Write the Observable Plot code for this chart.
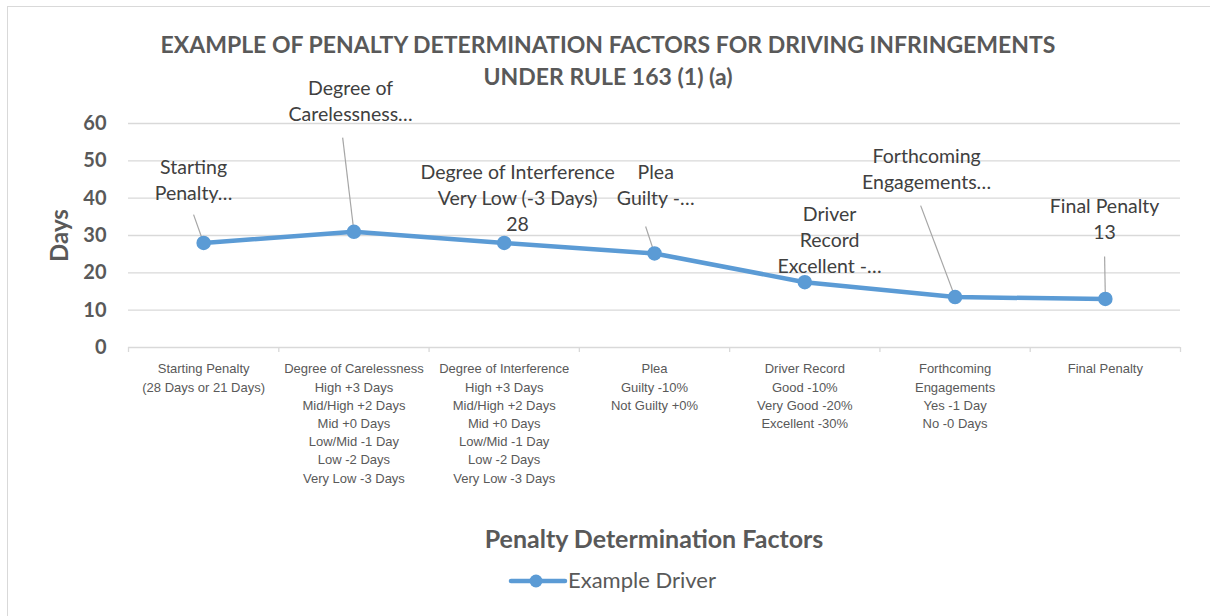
<!DOCTYPE html>
<html>
<head>
<meta charset="utf-8">
<script src="https://cdn.jsdelivr.net/npm/d3@7"></script>
<script src="https://cdn.jsdelivr.net/npm/@observablehq/plot@0.6"></script>
<style>
  html, body { margin: 0; padding: 0; background: #fff; }
  #wrap { position: relative; width: 1210px; height: 616px; overflow: hidden; font-family: Lato, "Open Sans", sans-serif; }
  #frame { position: absolute; left: 7px; top: 6px; width: 1220px; height: 640px; border-left: 1px solid #d9d9d9; border-top: 1px solid #d9d9d9; }
  #chart { position: absolute; left: 0; top: 0; }
  #title { position: absolute; left: 0; top: 28px; width: 1216px; text-align: center; font-weight: bold; font-size: 23px; line-height: 32px; color: #595959; }
  #xtitle { position: absolute; left: 0; top: 523px; width: 1308px; text-align: center; font-weight: bold; font-size: 25px; color: #595959; }
  #legend { position: absolute; left: 508px; top: 566px; display: flex; align-items: center; font-size: 22px; color: #595959; }
</style>
</head>
<body>
<div id="wrap">
  <div id="frame"></div>
  <div id="chart"></div>
  <div id="title">EXAMPLE OF PENALTY DETERMINATION FACTORS FOR DRIVING INFRINGEMENTS<br>UNDER RULE 163 (1) (a)</div>
  <div id="xtitle">Penalty Determination Factors</div>
  <div id="legend"><svg width="60" height="20" id="legsym"></svg><span>Example Driver</span></div>
</div>
<script>
// ---- data ----
const categories = [
  "Starting Penalty\n(28 Days or 21 Days)",
  "Degree of Carelessness\nHigh +3 Days\nMid/High +2 Days\nMid +0 Days\nLow/Mid -1 Day\nLow -2 Days\nVery Low -3 Days",
  "Degree of Interference\nHigh +3 Days\nMid/High +2 Days\nMid +0 Days\nLow/Mid -1 Day\nLow -2 Days\nVery Low -3 Days",
  "Plea\nGuilty -10%\nNot Guilty +0%",
  "Driver Record\nGood -10%\nVery Good -20%\nExcellent -30%",
  "Forthcoming\nEngagements\nYes -1 Day\nNo -0 Days",
  "Final Penalty"
];
const values = [28, 31, 28, 25.2, 17.5, 13.5, 13];
const dataLabels = [
  "Starting\nPenalty…",
  "Degree of\nCarelessness…",
  "Degree of Interference\nVery Low (-3 Days)\n28",
  "Plea\nGuilty -…",
  "Driver\nRecord\nExcellent -…",
  "Forthcoming\nEngagements…",
  "Final Penalty\n13"
];
const yTicks = [0, 10, 20, 30, 40, 50, 60];
const seriesName = "Example Driver";

// annotation layout (label block centres and leader-line tops, in chart units)
const labelPos = [
  {x: -0.067, y: 45.3, lx: -0.067, ly: 35.6},
  {x: 0.978, y: 66.4, lx: 0.925, ly: 56.2},
  {x: 2.089, y: 40.4, lx: null, ly: null},
  {x: 3.008, y: 43.9, lx: 2.941, ly: 32.4},
  {x: 4.165, y: 29.2, lx: null, ly: null},
  {x: 4.811, y: 48.2, lx: 4.771, ly: 38.0},
  {x: 5.995, y: 34.8, lx: 5.995, ly: 24.4}
];

const rows = values.map((v, i) => ({i, v, cat: categories[i], label: dataLabels[i], ...labelPos[i]}));
const bounds = categories.map((_, i) => i - 0.5).concat([categories.length - 0.5]);
const blue = "#5b9bd5";
const grey = "#595959";

const chart = Plot.plot({
  width: 1210,
  height: 500,
  marginLeft: 128,
  marginRight: 30,
  marginTop: 123,
  marginBottom: 153,
  style: {background: "transparent", overflow: "visible"},
  x: {type: "linear", domain: [-0.5, categories.length - 0.5], axis: null},
  y: {domain: [0, 60], axis: null},
  marks: [
    Plot.gridY(yTicks.filter(t => t > 0), {stroke: "#d9d9d9", strokeOpacity: 1, strokeWidth: 1.3}),
    Plot.ruleY([0], {stroke: "#d9d9d9", strokeWidth: 1.3}),
    Plot.axisX({ticks: bounds, tickFormat: () => "", tickSize: 5, stroke: "#d9d9d9", strokeWidth: 1.3}),
    Plot.text(yTicks, {x: -0.5, y: d => d, text: d => String(d), textAnchor: "end", dx: -22, fontSize: 20, fontWeight: "bold", fill: grey, fontFamily: "Lato, 'Open Sans', sans-serif"}),
    Plot.text(["Days"], {frameAnchor: "left", textAnchor: "middle", dx: -68, rotate: -90, text: d => d, fontSize: 24, fontWeight: "bold", fill: grey, fontFamily: "Lato, 'Open Sans', sans-serif"}),
    Plot.text(rows, {x: "i", y: 0, text: "cat", lineAnchor: "top", dy: 13, fontSize: 13, lineHeight: 1.4, fill: grey, fontFamily: "'Liberation Sans Narrow', 'Arial Narrow', 'Liberation Sans', sans-serif"}),
    Plot.link(rows.filter(d => d.lx !== null), {x1: "lx", y1: "ly", x2: "i", y2: "v", stroke: "#a6a6a6", strokeWidth: 1.2}),
    Plot.line(rows, {x: "i", y: "v", stroke: blue, strokeWidth: 4.5, strokeLinejoin: "round", strokeLinecap: "round"}),
    Plot.dot(rows, {x: "i", y: "v", r: 6.5, fill: blue, stroke: blue}),
    Plot.text(rows, {x: "x", y: "y", text: "label", lineAnchor: "middle", fontSize: 19.5, lineHeight: 1.34, fill: "#404040", fontFamily: "Lato, 'Open Sans', sans-serif"})
  ]
});
document.getElementById("chart").appendChild(chart);

// legend symbol
const leg = d3.select("#legsym");
leg.append("line").attr("x1", 3).attr("x2", 57).attr("y1", 11).attr("y2", 11).attr("stroke", blue).attr("stroke-width", 4.5).attr("stroke-linecap", "round");
leg.append("circle").attr("cx", 28).attr("cy", 11).attr("r", 6.5).attr("fill", blue);
document.querySelector("#legend span").textContent = seriesName;
</script>
</body>
</html>
